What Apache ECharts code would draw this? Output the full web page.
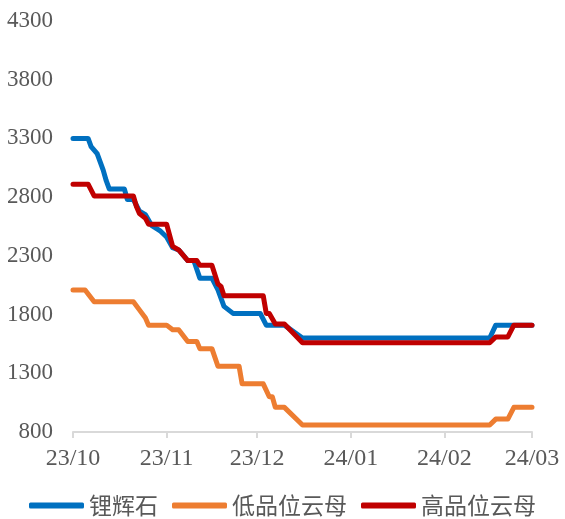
<!DOCTYPE html>
<html>
<head>
<meta charset="utf-8">
<script src="https://cdn.jsdelivr.net/npm/echarts@6/dist/echarts.min.js"></script>
<style>
  html, body { margin: 0; padding: 0; background: #fff; }
  #chart { width: 565px; height: 519px; }
</style>
</head>
<body>
<div id="chart"></div>
<script>
// series names (legend order)
const seriesNames = ['锂辉石', '低品位云母', '高品位云母'];

// axis ticks
const yTicks = [800, 1300, 1800, 2300, 2800, 3300, 3800, 4300];
const monthTicks = ['2023-10-01', '2023-11-01', '2023-12-01', '2024-01-01', '2024-02-01', '2024-03-01'];
const monthLabels = ['23/10', '23/11', '23/12', '24/01', '24/02', '24/03'];

// 锂辉石: change points
const spodDates = ['2023-10-01', '2023-10-06', '2023-10-07', '2023-10-09', '2023-10-10', '2023-10-11',
  '2023-10-12', '2023-10-13', '2023-10-18', '2023-10-19', '2023-10-21', '2023-10-23', '2023-10-25',
  '2023-10-27', '2023-10-30', '2023-11-01', '2023-11-03', '2023-11-05', '2023-11-08', '2023-11-10',
  '2023-11-12', '2023-11-16', '2023-11-18', '2023-11-20', '2023-11-23', '2023-12-02', '2023-12-04',
  '2023-12-10', '2023-12-16', '2024-02-16', '2024-02-18', '2024-03-01'];
const spodValues = [3300, 3300, 3230, 3170, 3100, 3030,
  2940, 2870, 2870, 2780, 2780, 2680, 2650,
  2560, 2510, 2460, 2370, 2350, 2260, 2260,
  2110, 2110, 2010, 1870, 1810, 1810, 1710,
  1710, 1600, 1600, 1710, 1710];

// 低品位云母
const lowDates = ['2023-10-01', '2023-10-05', '2023-10-08', '2023-10-21', '2023-10-23', '2023-10-25',
  '2023-10-26', '2023-11-01', '2023-11-03', '2023-11-05', '2023-11-08', '2023-11-11', '2023-11-12',
  '2023-11-16', '2023-11-18', '2023-11-25', '2023-11-26', '2023-12-03', '2023-12-05', '2023-12-06',
  '2023-12-07', '2023-12-10', '2023-12-16', '2024-02-16', '2024-02-18', '2024-02-22', '2024-02-24',
  '2024-03-01'];
const lowValues = [2010, 2010, 1910, 1910, 1840, 1770,
  1710, 1710, 1670, 1670, 1570, 1570, 1510,
  1510, 1360, 1360, 1210, 1210, 1100, 1100,
  1010, 1010, 860, 860, 910, 910, 1010,
  1010];

// 高品位云母
const highDates = ['2023-10-01', '2023-10-06', '2023-10-08', '2023-10-21', '2023-10-22', '2023-10-23',
  '2023-10-25', '2023-10-26', '2023-11-01', '2023-11-03', '2023-11-05', '2023-11-08', '2023-11-11',
  '2023-11-12', '2023-11-16', '2023-11-18', '2023-11-19', '2023-11-20', '2023-12-03', '2023-12-04',
  '2023-12-05', '2023-12-07', '2023-12-10', '2023-12-16', '2024-02-16', '2024-02-18', '2024-02-22',
  '2024-02-24', '2024-03-01'];
const highValues = [2910, 2910, 2810, 2810, 2720, 2660,
  2620, 2570, 2570, 2380, 2350, 2260, 2260,
  2220, 2220, 2060, 2040, 1960, 1960, 1810,
  1810, 1720, 1720, 1560, 1560, 1610, 1610,
  1710, 1710];

const colors = ['#0070C0', '#ED7D31', '#C00000'];
const labelColor = '#595959';
const serif = '"Liberation Serif", "Times New Roman", serif';

function toTime(d) {
  let p = d.split('-').map(Number);
  return Date.UTC(p[0], p[1] - 1, p[2]);
}

function pairs(dates, values) {
  return dates.map((d, i) => [toTime(d), values[i]]);
}

const monthTimes = monthTicks.map(toTime);

let chart = echarts.init(document.getElementById('chart'), null, { renderer: 'canvas' });

let option = {
  animation: false,
  color: colors,
  grid: {
    left: 73,
    right: 33,
    top: 21,
    bottom: 87,
    containLabel: false,
    outerBoundsMode: 'none'
  },
  legend: {
    data: seriesNames,
    left: 'center',
    top: 489,
    icon: 'roundRect',
    itemWidth: 55,
    itemHeight: 6,
    itemGap: 14,
    textStyle: {
      fontFamily: '"Noto Sans CJK SC", sans-serif',
      fontSize: 23,
      color: labelColor
    }
  },
  xAxis: {
    type: 'value',
    min: monthTimes[0],
    max: monthTimes[monthTimes.length - 1],
    axisLine: { lineStyle: { color: '#D9D9D9', width: 2 } },
    axisTick: {
      show: true,
      length: 6,
      customValues: monthTimes,
      lineStyle: { color: '#D9D9D9', width: 2 }
    },
    axisLabel: {
      customValues: monthTimes,
      margin: 15,
      fontFamily: serif,
      fontSize: 24,
      color: labelColor,
      formatter: function (value) {
        let idx = monthTimes.indexOf(value);
        return idx >= 0? monthLabels[idx]: '';
      }
    },
    splitLine: { show: false }
  },
  yAxis: {
    type: 'value',
    min: yTicks[0],
    max: yTicks[yTicks.length - 1],
    axisLine: { show: false },
    axisTick: { show: false },
    splitLine: { show: false },
    axisLabel: {
      customValues: yTicks,
      margin: 20,
      fontFamily: serif,
      fontSize: 23,
      color: labelColor,
      formatter: value => String(value)
    }
  },
  series: [
    { name: seriesNames[0], data: pairs(spodDates, spodValues) },
    { name: seriesNames[1], data: pairs(lowDates, lowValues) },
    { name: seriesNames[2], data: pairs(highDates, highValues) }
  ].map((s, i) => ({
    name: s.name,
    type: 'line',
    data: s.data,
    showSymbol: false,
    symbol: 'none',
    lineStyle: { width: 5, color: colors[i], cap: 'round', join: 'round' },
    itemStyle: { color: colors[i] }
  }))
};

chart.setOption(option);
</script>
</body>
</html>
